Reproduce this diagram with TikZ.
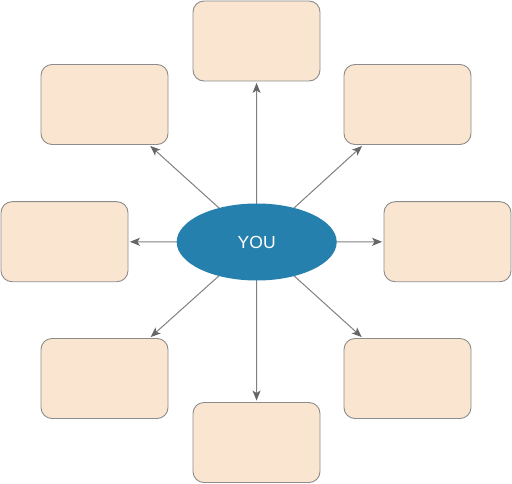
\documentclass[tikz,border=0pt]{standalone}
\usepackage{fontspec}
\setmainfont{Liberation Sans}
\usetikzlibrary{shapes.geometric,arrows.meta}
\definecolor{boxfill}{HTML}{FAE6D0}
\definecolor{boxline}{HTML}{8C8C8C}
\definecolor{youfill}{HTML}{2680AE}
\definecolor{linecol}{HTML}{808080}
\definecolor{tipcol}{HTML}{666666}
\tikzset{
  box/.style={draw=boxline, fill=boxfill, line width=0.9pt, rounded corners=11pt,
    minimum width=127pt, minimum height=80pt, inner sep=0pt},
  conn/.style={draw=linecol, line width=1pt, shorten >=1.5pt,
    -{Stealth[length=10pt,width=8pt,inset=2.5pt,color=tipcol]}},
  you/.style={ellipse, fill=youfill, draw=none, minimum width=160pt, minimum height=77pt,
    inner sep=0pt, text=white, font=\fontsize{17.5}{20}\selectfont}
}
\begin{document}
\begin{tikzpicture}[x=1pt,y=-1pt]
\useasboundingbox (0,0) rectangle (512,484);
\coordinate (c) at (256.7,242);
\node[box] (t)  at (256.5,41) {};
\node[box] (b)  at (256.5,442.5) {};
\node[box] (l)  at (64.5,241.7) {};
\node[box] (r)  at (447.5,241.7) {};
\node[box] (tl) at (104.5,104.5) {};
\node[box] (tr) at (407.5,104.5) {};
\node[box] (bl) at (104.5,378.5) {};
\node[box] (br) at (407.5,378.5) {};
\foreach \n in {t,b,l,r,tl,tr,bl,br} { \draw[conn] (c) -- (\n); }
\node[you] (you) at (c) {YOU};
\end{tikzpicture}
\end{document}
